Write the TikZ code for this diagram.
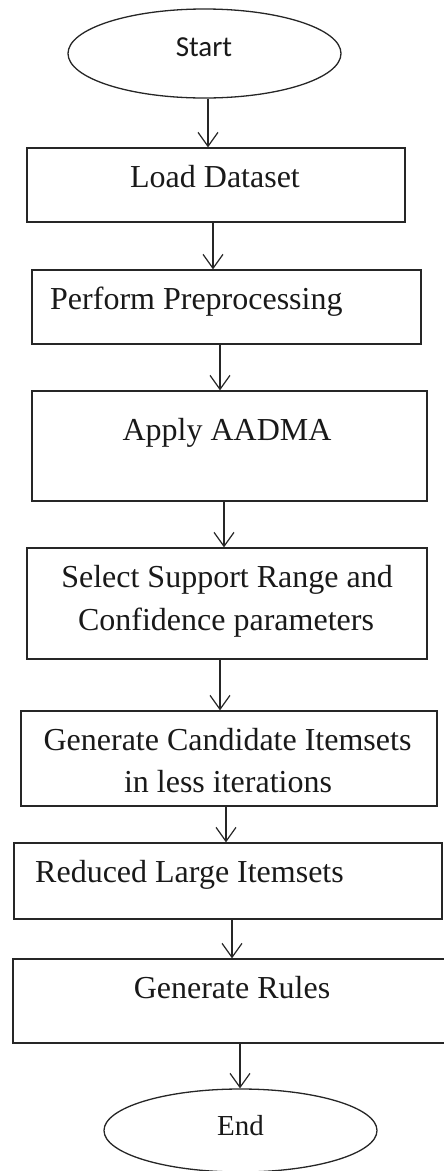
\documentclass[tikz,border=0pt]{standalone}
\usepackage{fontspec}
\setmainfont{Liberation Serif}
\newfontfamily\calibrifont{Carlito}
\usetikzlibrary{arrows.meta,shapes.geometric}

\tikzset{
  stepbox/.style={draw=black!85, line width=1.3pt, rectangle, inner sep=0pt},
  terminal/.style={draw=black!85, line width=1.3pt, ellipse, inner sep=0pt,
                   minimum width=273pt},
  label/.style={inner sep=0pt, text=black!90,
                font=\fontsize{32}{41}\selectfont},
  arr/.style={draw=black!85, line width=1.2pt,
              -{Straight Barb[length=14pt,width=20pt,line width=1.2pt]}},
}

\begin{document}
\begin{tikzpicture}[x=1pt, y=-1pt]
  \useasboundingbox (0,0) rectangle (444,1171);

  % terminals and process boxes
  \node[terminal, minimum height=89pt] (start) at (204.5,53.5) {};
  \node[stepbox, minimum width=378pt, minimum height=74pt]  (load)    at (216,185) {};
  \node[stepbox, minimum width=389pt, minimum height=74pt]  (perf)    at (226.5,307) {};
  \node[stepbox, minimum width=395pt, minimum height=110pt] (apply)   at (229.5,446) {};
  \node[stepbox, minimum width=400pt, minimum height=111pt] (select)  at (227,603.5) {};
  \node[stepbox, minimum width=416pt, minimum height=95pt]  (gen)     at (229,758.5) {};
  \node[stepbox, minimum width=428pt, minimum height=76pt]  (reduced) at (228,881) {};
  \node[stepbox, minimum width=438pt, minimum height=84pt]  (rules)   at (232,1001) {};
  \node[terminal, minimum height=83pt] (end) at (240.5,1130.5) {};

  % texts
  \node[label, anchor=base, font=\calibrifont\fontsize{29}{35}\selectfont] (tstart) at (204,56) {Start};
  \node[label, anchor=base] (tload) at (215,187) {Load Dataset};
  \node[label, anchor=base west] (tperf) at (50,309) {Perform Preprocessing};
  \node[label, anchor=base] (tapply) at (227,440) {Apply AADMA};
  \node[label, anchor=base] (tsel1) at (227,587) {Select Support Range and};
  \node[label, anchor=base] (tsel2) at (226,630) {Confidence parameters};
  \node[label, anchor=base] (tgen1) at (227.5,750) {Generate Candidate Itemsets};
  \node[label, anchor=base] (tgen2) at (228,792) {in less iterations};
  \node[label, anchor=base west] (tred) at (35,882) {Reduced Large Itemsets};
  \node[label, anchor=base] (trules) at (232,998) {Generate Rules};
  \node[label, anchor=base, font=\fontsize{29}{35}\selectfont] (tend) at (240.5,1135) {End};

  % connectors
  \draw[arr] ([xshift=3.5pt]start.south) -- ([xshift=3.5pt]start.south |- load.north);
  \draw[arr] ([xshift=-3pt]load.south)   -- ([xshift=-3pt]load.south |- perf.north);
  \draw[arr] ([xshift=-6.5pt]perf.south) -- ([xshift=-6.5pt]perf.south |- apply.north);
  \draw[arr] ([xshift=-5.5pt]apply.south) -- ([xshift=-5.5pt]apply.south |- select.north);
  \draw[arr] ([xshift=-7pt]select.south) -- ([xshift=-7pt]select.south |- gen.north);
  \draw[arr] ([xshift=-3pt]gen.south)    -- ([xshift=-3pt]gen.south |- reduced.north);
  \draw[arr] ([xshift=4pt]reduced.south) -- ([xshift=4pt]reduced.south |- rules.north);
  \draw[arr] ([xshift=8pt]rules.south)   -- ([xshift=8pt]rules.south |- end.north);
\end{tikzpicture}
\end{document}
